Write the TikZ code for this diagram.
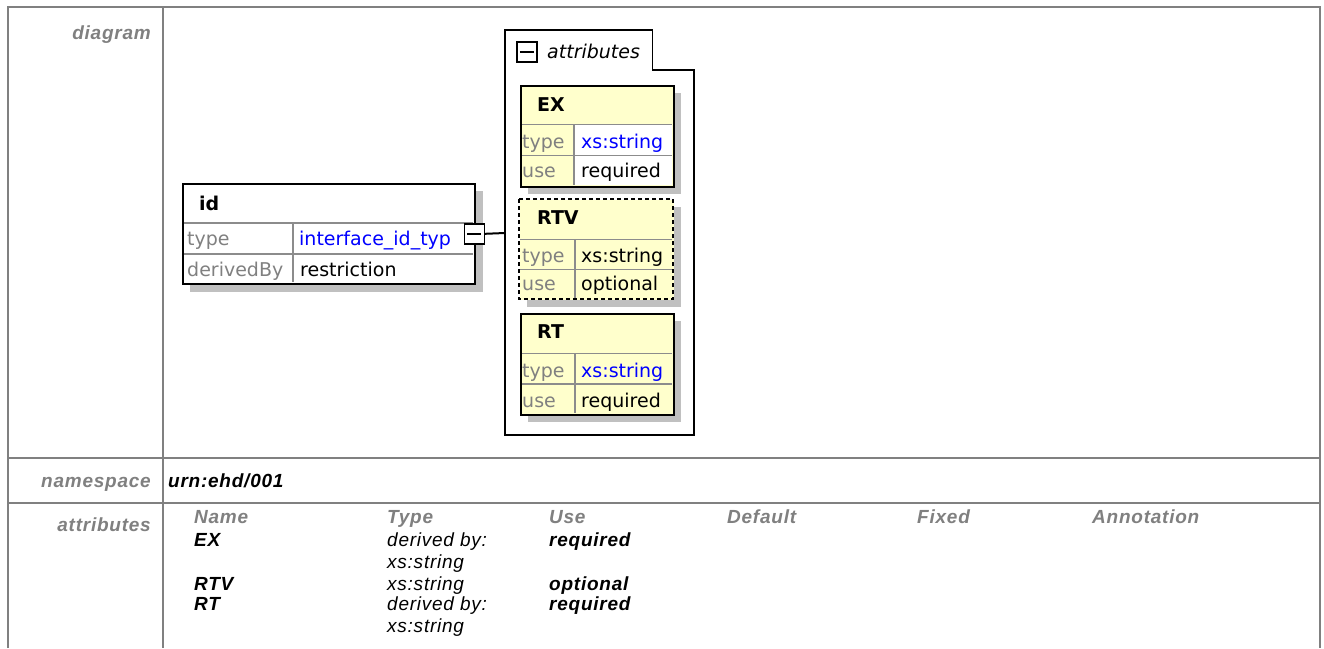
\documentclass[tikz,border=0pt]{standalone}
\usepackage{fontspec}
\setmainfont{Liberation Sans}
\newfontfamily\dfont{DejaVu Sans}
\newfontfamily\lfont[LetterSpace=4]{Liberation Sans}
\definecolor{fgray}{HTML}{808080}
\definecolor{shadowc}{HTML}{C0C0C0}
\definecolor{gridc}{HTML}{8C8C8C}
\definecolor{ylw}{HTML}{FFFFCC}
\definecolor{linkblue}{HTML}{0000FF}
\begin{document}
\begin{tikzpicture}[x=1pt,y=-1pt,
  frameline/.style={draw=fgray, line width=2pt},
  lbl/.style={anchor=base east, inner sep=0, text=fgray, font=\lfont\fontsize{19}{22}\selectfont\bfseries\itshape},
  tbl/.style={anchor=base west, inner sep=0, font=\lfont\fontsize{19}{22}\selectfont\bfseries\itshape},
  tblh/.style={tbl, text=fgray},
  tbln/.style={anchor=base west, inner sep=0, font=\lfont\fontsize{19}{22}\selectfont\itshape},
  dtxt/.style={anchor=base west, inner sep=0, font=\dfont\fontsize{19}{22}\selectfont},
  dkey/.style={dtxt, text=fgray},
  dlink/.style={dtxt, text=linkblue},
  dbold/.style={anchor=base west, inner sep=0, font=\dfont\fontsize{19}{22}\selectfont\bfseries},
  dital/.style={anchor=base west, inner sep=0, font=\dfont\fontsize{19}{22}\selectfont\itshape},
  gridln/.style={draw=gridc, line width=1.3pt},
  elembox/.style={draw=black, line width=1.8pt, anchor=north west, inner sep=0},
  minusbox/.style={draw=black, fill=white, line width=1.6pt, minimum width=20pt, minimum height=20pt, inner sep=0, anchor=north west}
]
\useasboundingbox (0,0) rectangle (1324,648);
\fill[white] (0,0) rectangle (1324,648);
% frame
\draw[frameline] (8,648) -- (8,7) -- (1320,7) -- (1320,648);
\draw[frameline] (163,7) -- (163,648);
\draw[frameline] (8,457.5) -- (1320,457.5);
\draw[frameline] (8,503) -- (1320,503);
% labels
\node[lbl] (l1) at (151,39) {diagram};
\node[lbl] (l2) at (151,487) {namespace};
\node[lbl] (l3) at (151,531) {attributes};
\node[tbl, anchor=base west] (ns) at (168,487) {urn:ehd/001};

% id box
\fill[shadowc] (190,191) rectangle (483,292);
\node[elembox, fill=white, minimum width=292pt, minimum height=100pt] (idbox) at (182,183) {};
\draw[gridln] (183,223) -- (473,223);
\draw[gridln] (183,254) -- (473,254);
\draw[gridln] (293,223) -- (293,282);
\node[elembox, minimum width=292pt, minimum height=100pt] at (182,183) {};
\node[dbold] (idname) at (199,210) {id};
\node[dkey] (idk1) at (187,245) {type};
\node[dlink] (idv1) at (299,245) {interface\_id\_typ};
\node[dkey] (idk2) at (187,276) {derivedBy};
\node[dtxt] (idv2) at (300,276) {restriction};
\node[minusbox] (idminus) at (463.5,223) {};
\draw[line width=1.6pt] ([xshift=-7pt]idminus.center) -- ([xshift=7pt]idminus.center);

% attributes container
\draw[draw=black, line width=1.8pt, fill=white] (505,30) -- (652.5,30) -- (652.5,70) -- (694,70) -- (694,435) -- (505,435) -- cycle;
\coordinate (cwest) at (505,233);
\draw[line width=2pt] (idminus.east) -- (cwest);
\node[minusbox] (cminus) at (516,41) {};
\draw[line width=1.6pt] ([xshift=-7pt]cminus.center) -- ([xshift=7pt]cminus.center);
\node[dital] (ctitle) at (547,58) {attributes};

% EX
\fill[shadowc] (528,93) rectangle (681,194);
\node[elembox, fill=ylw, minimum width=153pt, minimum height=101pt] (ex) at (520,85) {};
\fill[white] (574,124.5) rectangle (672,185);
\draw[gridln] (521,124.5) -- (672,124.5);
\draw[gridln] (521,155.5) -- (672,155.5);
\draw[gridln] (574,124.5) -- (574,185);
\node[elembox, minimum width=153pt, minimum height=101pt] at (520,85) {};
\node[dbold] (exn) at (537,111) {EX};
\node[dkey] (exk1) at (522,148) {type};
\node[dlink] (exv1) at (581,148) {xs:string};
\node[dkey] (exk2) at (522,177) {use};
\node[dtxt] (exv2) at (581,177) {required};

% RTV
\fill[shadowc] (527,207) rectangle (681,307);
\node[elembox, fill=ylw, draw=none, minimum width=154pt, minimum height=100pt] (rtv) at (519,199) {};
\draw[gridln] (520,239.5) -- (672,239.5);
\draw[gridln] (520,269.5) -- (672,269.5);
\draw[gridln] (575,239.5) -- (575,298);
\draw[black, line width=1.8pt, dash pattern=on 4pt off 3pt] (519,199) rectangle (673,299);
\node[dbold] (rtvn) at (537,224.5) {RTV};
\node[dkey] (rtvk1) at (522,262) {type};
\node[dtxt] (rtvv1) at (581,262) {xs:string};
\node[dkey] (rtvk2) at (522,290) {use};
\node[dtxt] (rtvv2) at (581,290) {optional};

% RT
\fill[shadowc] (528,321) rectangle (681,422);
\node[elembox, fill=ylw, minimum width=153pt, minimum height=101pt] (rt) at (520,313) {};
\draw[gridln] (521,353.5) -- (672,353.5);
\draw[gridln] (521,384) -- (672,384);
\draw[gridln] (575,353.5) -- (575,413);
\node[elembox, minimum width=153pt, minimum height=101pt] at (520,313) {};
\node[dbold] (rtn) at (537,338.5) {RT};
\node[dkey] (rtk1) at (522,377) {type};
\node[dlink] (rtv1) at (581,377) {xs:string};
\node[dkey] (rtk2) at (522,407) {use};
\node[dtxt] (rtv2) at (581,407) {required};

% attributes table
\node[tblh] (h1) at (194,523) {Name};
\node[tblh] (h2) at (387,523) {Type};
\node[tblh] (h3) at (549,523) {Use};
\node[tblh] (h4) at (727,523) {Default};
\node[tblh] (h5) at (917,523) {Fixed};
\node[tblh] (h6) at (1092,523) {Annotation};
\node[tbl] (a1) at (194,546) {EX};
\node[tbln] (t1) at (387,546) {derived by:};
\node[tbln] (t1b) at (387,568) {xs:string};
\node[tbl] (u1) at (549,546) {required};
\node[tbl] (a2) at (194,590) {RTV};
\node[tbln] (t2) at (387,590) {xs:string};
\node[tbl] (u2) at (549,590) {optional};
\node[tbl] (a3) at (194,610) {RT};
\node[tbln] (t3) at (387,610) {derived by:};
\node[tbln] (t3b) at (387,632) {xs:string};
\node[tbl] (u3) at (549,610) {required};
\end{tikzpicture}
\end{document}
